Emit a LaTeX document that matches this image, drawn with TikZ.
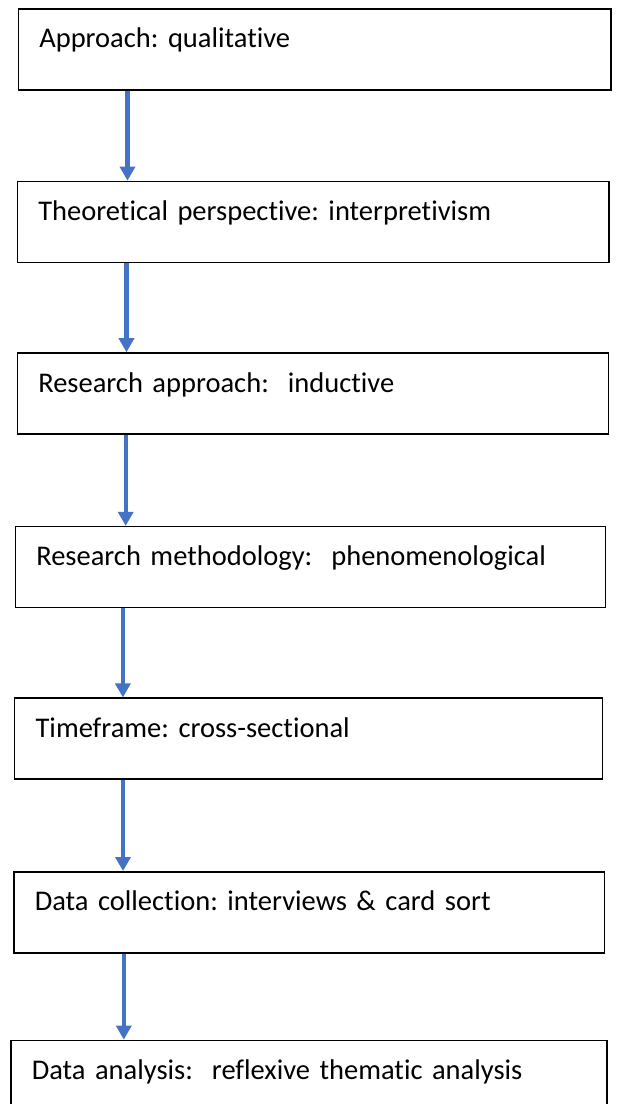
\documentclass[tikz,border=0pt]{standalone}
\usepackage{fontspec}
\setmainfont{Carlito}[Ligatures=NoCommon]
\usepackage{tikz}
\usetikzlibrary{positioning,arrows.meta}

\definecolor{arrowblue}{RGB}{68,114,196}

\frenchspacing

\begin{document}
\begin{tikzpicture}[
x=1pt,y=1pt,
box/.style={
draw,
line width=1.6pt,
align=left,
inner xsep=21pt,
inner ysep=19pt,
text height=20pt,
text depth=23pt,
font=\fontsize{28.5}{34}\selectfont
},
arrow/.style={
-{Triangle[width=15pt,length=14pt]},
line width=4.3pt,
arrowblue
}
]

\useasboundingbox (0,0) rectangle (617,-1104);
\fill[white] (0,0) rectangle (617,-1104);


% Approach

\node (approach) [box, text width=550.5pt, anchor=north west] at (17.5,-8)
{Approach: qualitative};


% Perspective

\node (theory) [box, text width=549.5pt, below=90pt of approach.south west, anchor=north west, xshift=-1pt]
{Theoretical perspective: interpretivism};


\draw[arrow] ([xshift=110pt]approach.south west) -- ([xshift=110pt]approach.south west |- theory.north);


% Research approach

\node (induct) [box, text width=549pt, below=89pt of theory.south west, anchor=north west]
{Research approach:\ \ inductive};


\draw[arrow] ([xshift=110pt]theory.south west) -- ([xshift=110pt]theory.south west |- induct.north);


% Methodology

\node (method) [box, text width=548pt, below=91pt of induct.south west, anchor=north west, xshift=-2pt]
{Research methodology:\ \ phenomenological};


\draw[arrow] ([xshift=109.2pt]induct.south west) -- ([xshift=109.2pt]induct.south west |- method.north);


% Timeframe

\node (timeframe) [box, text width=546pt, below=89pt of method.south west, anchor=north west, xshift=-0.7pt]
{Timeframe: cross-sectional};


\draw[arrow] ([xshift=108.4pt]method.south west) -- ([xshift=108.4pt]method.south west |- timeframe.north);


% Data collection

\node (collect) [box, text width=548.5pt, below=91pt of timeframe.south west, anchor=north west, xshift=-0.8pt]
{Data collection: interviews \& card sort};


\draw[arrow] ([xshift=109.2pt]timeframe.south west) -- ([xshift=109.2pt]timeframe.south west |- collect.north);


% Data analysis

\node (analysis) [box, text width=554pt, below=86pt of collect.south west, anchor=north west, xshift=-3pt]
{Data analysis:\ \ reflexive thematic analysis};


\draw[arrow] ([xshift=110.8pt]collect.south west) -- ([xshift=110.8pt]collect.south west |- analysis.north);


\end{tikzpicture}
\end{document}
